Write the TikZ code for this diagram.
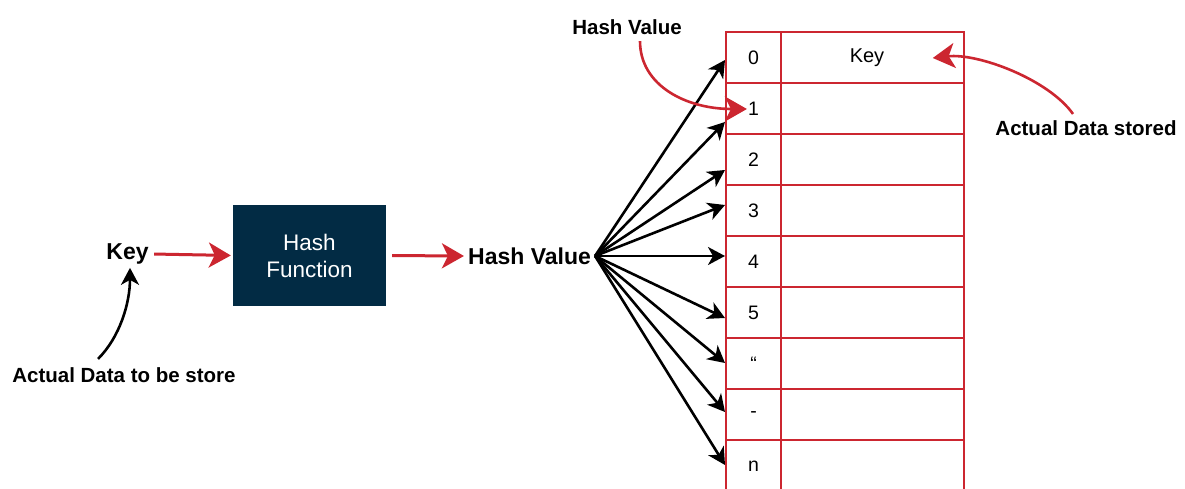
\documentclass[tikz,border=0pt]{standalone}
\usepackage{fontspec}
\setmainfont{Liberation Sans}
\usetikzlibrary{arrows.meta}
\definecolor{hash-red}{RGB}{204, 38, 48}
\definecolor{hash-navy}{RGB}{2, 43, 68}
\tikzset{
  bigtext/.style={font=\fontsize{23}{27}\selectfont\bfseries},
  notetext/.style={font=\fontsize{20.5}{24}\selectfont\bfseries},
  celltext/.style={font=\fontsize{19.5}{22}\selectfont, inner sep=3pt},
  redarrow/.style={draw=hash-red, line width=3pt, -{Stealth[length=22pt,width=25pt,inset=6pt]}},
  blackarrow/.style={draw=black, line width=2.6pt, -{Stealth[length=17pt,width=18pt,inset=5pt]}},
  tableline/.style={draw=hash-red, line width=2.8pt},
  hashbox/.style={fill=hash-navy, text=white, align=center, inner sep=0pt,
    minimum width=153pt, minimum height=101pt, font=\fontsize{22.5}{27}\selectfont}
}
\begin{document}
\begin{tikzpicture}[x=1pt, y=-1pt]
\useasboundingbox[fill=white] (0,0) rectangle (1185,489);
% table
\foreach \i in {0,...,8}
  \draw[tableline] (726,{32+51*\i}) rectangle (964,{83+51*\i});
\draw[tableline] (781,32) -- (781,495);
\foreach \lbl [count=\i from 0] in {0,1,2,3,4,5,“,-,n}
  \node[celltext] (c\i) at (753.5,{58+51*\i}) {\lbl};
\node[font=\fontsize{20}{24}\selectfont] (tkey) at (867,58) {Key};
% left part
\node[bigtext] (key) at (127.5,254) {Key};
\node[hashbox] (hf) at (309.5,255.5) {Hash\\Function};
\node[bigtext, inner sep=4pt] (hv) at (529.5,256) {Hash Value};
\node[notetext] (store) at (124,375) {Actual Data to be store};
\node[notetext] (hvtop) at (627,27) {Hash Value};
\node[notetext] (stored) at (1086,128) {Actual Data stored};
\draw[redarrow, shorten <=2pt, shorten >=2pt] (key.east) -- (hf.west);
\draw[redarrow, shorten <=6pt] (hf.east) -- (hv.west);
% fan of arrows
\foreach \ty [count=\i from 0] in {60,122,170,205,256,318,363,412,465}
  \coordinate (tip\i) at (725,\ty);
\foreach \i in {0,...,8}
  \draw[blackarrow] (hv.east) -- (tip\i);
% curved notes
\draw[blackarrow] ([xshift=-26pt,yshift=5pt]store.north) .. controls +(22,-22) and +(0,35) .. ([xshift=2.5pt]key.south);
\draw[redarrow, line width=2.6pt] ([xshift=13pt,yshift=-3pt]hvtop.south) .. controls +(0,45) and +(-60,0) .. ([xshift=2pt]c1.west);
\draw[redarrow, line width=2.6pt] ([xshift=-13pt,yshift=3pt]stored.north) .. controls +(-25,-35) and +(45,-5) .. ([xshift=45pt]tkey.east);
\end{tikzpicture}
\end{document}
